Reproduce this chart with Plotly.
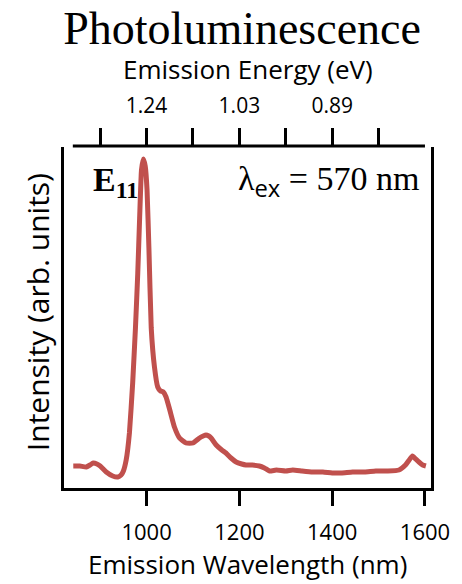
import plotly.graph_objects as go

# Emission wavelength (nm) and PL intensity (arb. units)
wavelength = [842, 856, 870, 878, 885, 893, 900, 913, 927, 938, 945, 950, 956, 963,
              970, 976, 981, 985, 989, 993, 997, 1001, 1005, 1010, 1017, 1024, 1030,
              1036, 1042, 1050, 1060, 1071, 1085, 1100, 1114, 1122, 1128, 1134, 1139,
              1150, 1162, 1171, 1182, 1193, 1205, 1214, 1228, 1243, 1254, 1265, 1280,
              1300, 1315, 1335, 1358, 1380, 1400, 1420, 1444, 1470, 1494, 1520, 1544,
              1558, 1566, 1573, 1580, 1587, 1595, 1602]
intensity = [22, 22, 21, 23, 25, 24, 22, 16, 12, 11, 13, 17, 28, 55,
             105, 160, 215, 270, 318, 329, 322, 298, 240, 160, 121, 101, 97,
             96, 91, 78, 61, 50, 45, 45, 50, 52, 53, 52, 50,
             43, 38, 35, 30, 26, 24, 23, 23, 22, 20, 17, 18,
             17, 18, 17, 16, 16, 15, 15, 16, 16, 17, 17, 18,
             23, 28, 32, 29, 26, 23, 22]

# Top axis: emission energy labels at selected wavelengths
top_tick_wl = [900, 1000, 1100, 1200, 1300, 1400, 1500]
top_tick_text = ["", "1.24", "", "1.03", "", "0.89", ""]
bottom_tick_wl = [1000, 1200, 1400, 1600]

x_range = [822, 1613]
y_range = [0, 341]
top_axis_span = [841, 1600]

line_color = "#C0504D"
sans = "Open Sans"
serif = "Liberation Serif"

W, H = 462, 584
ML, MR, MT, MB = 64, 29, 147, 96
PW, PH = W - ML - MR, H - MT - MB


def px_x(px):
    return (px - ML) / PW


def px_y(py):
    return (H - MB - py) / PH


fig = go.Figure()
fig.add_trace(go.Scatter(x=wavelength, y=intensity, mode="lines",
                         line=dict(color=line_color, width=5, shape="spline", smoothing=0.4),
                         showlegend=False, hoverinfo="skip"))
# invisible trace to activate the top axis
fig.add_trace(go.Scatter(x=[x_range[0]], y=[y_range[0]], xaxis="x2", mode="markers",
                         marker=dict(opacity=0), showlegend=False, hoverinfo="skip"))

fig.update_layout(
    width=W, height=H,
    margin=dict(l=ML, r=MR, t=MT, b=MB),
    plot_bgcolor="white", paper_bgcolor="white",
    title=dict(text="Photoluminescence", x=0.524, xanchor="center",
               y=1 - 28 / H, yanchor="middle",
               font=dict(family=serif, size=46, color="black")),
    xaxis=dict(range=x_range, showgrid=False, zeroline=False,
               showline=True, linecolor="black", linewidth=3,
               tickmode="array", tickvals=bottom_tick_wl,
               ticks="outside", ticklen=15, tickwidth=2.5, tickcolor="black",
               ticklabelstandoff=8,
               tickfont=dict(family=sans, size=22, color="black")),
    xaxis2=dict(range=x_range, overlaying="x", side="top", showgrid=False,
                zeroline=False, showline=False,
                tickmode="array", tickvals=top_tick_wl, ticktext=top_tick_text,
                ticks="outside", ticklen=18, tickwidth=2.5, tickcolor="black",
                ticklabelstandoff=7,
                tickfont=dict(family=sans, size=21, color="black")),
    yaxis=dict(range=y_range, showgrid=False, zeroline=False,
               showline=True, mirror=True, linecolor="black", linewidth=3,
               showticklabels=False, ticks=""),
    shapes=[dict(type="line", xref="x", yref="paper",
                 x0=top_axis_span[0], x1=top_axis_span[1], y0=1.003, y1=1.003,
                 line=dict(color="black", width=3))],
    annotations=[
        dict(text="Emission Wavelength (nm)", xref="paper", yref="paper",
             x=px_x(248), y=px_y(564), xanchor="center", yanchor="middle",
             showarrow=False, font=dict(family=sans, size=26, color="black")),
        dict(text="Emission Energy (eV)", xref="paper", yref="paper",
             x=px_x(249), y=px_y(69), xanchor="center", yanchor="middle",
             showarrow=False, font=dict(family=sans, size=26, color="black")),
        dict(text="Intensity (arb. units)", xref="paper", yref="paper",
             x=px_x(37), y=px_y(312), xanchor="center", yanchor="middle",
             textangle=-90, showarrow=False,
             font=dict(family=sans, size=30, color="black")),
        dict(text="<b>E</b><sub><b>11</b></sub>", xref="paper", yref="paper",
             x=px_x(91), y=px_y(182), xanchor="left", yanchor="middle", showarrow=False,
             font=dict(family=serif, size=34, color="black")),
        dict(text="λ<sub><span style='font-family:Open Sans'>ex</span></sub> = 570 nm",
             xref="paper", yref="paper", x=px_x(423), y=px_y(182), xanchor="right",
             yanchor="middle", showarrow=False,
             font=dict(family=serif, size=34, color="black")),
    ],
)

fig.write_html("out.html")
